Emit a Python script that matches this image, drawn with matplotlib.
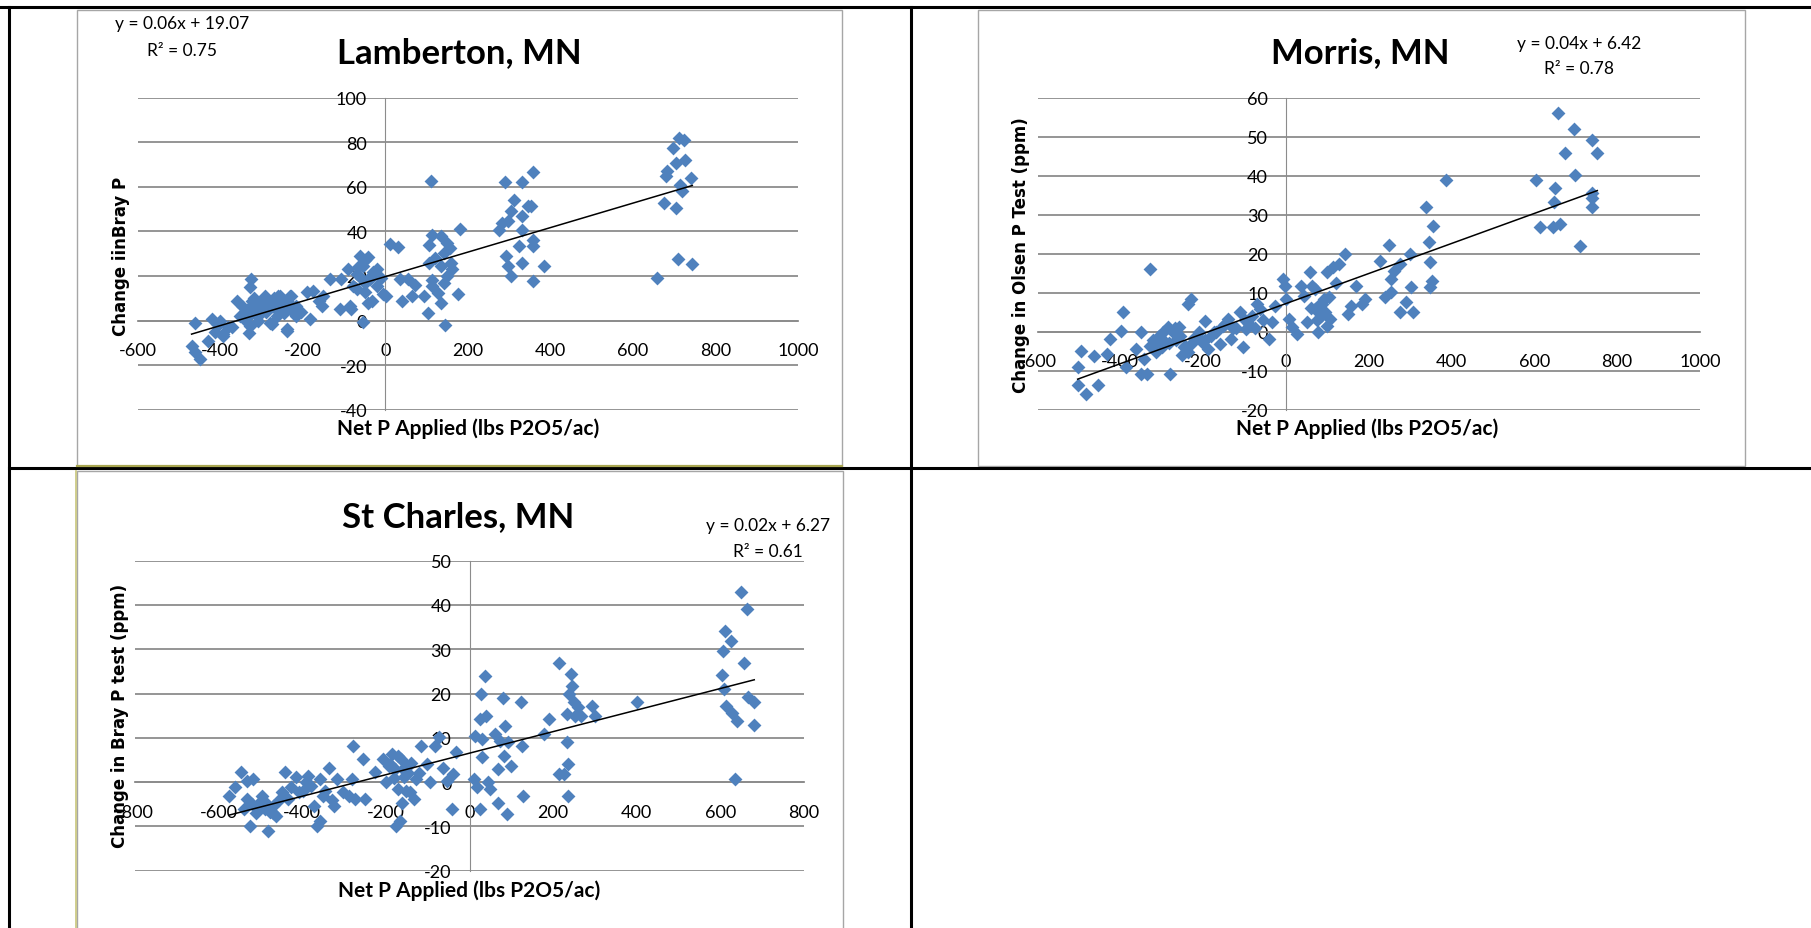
import matplotlib.pyplot as plt
from matplotlib.lines import Line2D
from matplotlib.patches import Rectangle
import numpy as np

plt.rcParams['font.family'] = ['Lato', 'DejaVu Sans']
plt.rcParams['axes.unicode_minus'] = False

W, H = 1811, 929

# Lamberton, MN  (net P applied vs change in Bray P)
lam_x = [-469, -461, -449, -461, -420, -400, -413, -393, -430, -360, -352, -340, -332, -324,
         -328, -328, -316, -308, -299, -291, -284, -275, -272, -263, -255, -248, -239, -236,
         -227, -224, -215, -182, -190, -175, -154, -151, -134, -106, -89, -86, -78, -61,
         -54, -49, -54, -42, -37, -33, -21, -21, 3, 11, 31, 36, 40, 55,
         -392, -371, -343, -322, -315, -329, -294, -280, -273, -259, -245, -238, -231, -216,
         -83, -69, -48, -41, -34, -48, -69, -160, -110, -10, -5,
         -345, -335, -318, -305, -296, -288, -270, -262, -250, -242, -232, -222, -205, -380,
         -405, -310, -285, -258, -66, -58, -30,
         64, 72, 93, 103, 110, 107, 114, 107, 114, 114, 128, 135, 142, 149, 156, 135, 142,
         135, 146, 160, 163, 177, 181, 120, 150,
         276, 283, 290, 297, 293, 297, 304, 304, 311, 325, 332, 332, 332, 332, 346, 353,
         359, 359, 359, 359, 385,
         658, 676, 680, 683, 697, 704, 704, 709, 712, 715, 719, 723, 726, 740, 744]
lam_y = [-11.3, -1.1, -17.3, -14.1, 0.7, 0, -5.2, -6, -9, 8.9, 2.2, 3.8, 5.2, 18.6,
         15, -2.3, 6.6, 0, 3.8, 11, 6.6, -1.6, 8.9, 2.2, 11, 5.2, -4.6, 8.3,
         11, 3.8, 6.6, 0.7, 12.6, 13.4, 6.6, 11, 18.6, 18.6, 23, 6.6, 15.6, 29,
         24.6, 12.6, -0.8, 28.5, 18.6, 8.9, 23, 15.6, 11, 34.3, 32.8, 18.6, 8.9, 18.6,
         -7, -3, 0.5, 9, 3.5, -5.5, 5, -1, 6.4, 11, 3.4, -4, 11, 2,
         5, 14, 27, 8, 20, 17, 21, 9, 5, 19, 12,
         6, 1, 10, 7, 9, 4, 10, 7, 8, 9, 7, 5, 4, -3,
         -2, 4, 8, 4, 24, 19, 22,
         11, 16, 11, 3.4, 62.5, 34, 38.6, 26, 18.4, 15.4, 12.4, 37.8, 30.4, 35, 32.6, 24.4, 17,
         8, -2.2, 26, 23, 11.7, 41, 28, 20,
         40.8, 43.8, 62, 44.6, 29, 24.4, 20, 49, 54, 33.4, 62, 46.8, 40.8, 26, 51.3, 51.3,
         66.5, 36.3, 33.4, 17.6, 24.4,
         19, 52.8, 64.8, 67, 77.5, 70.7, 50.6, 27.7, 82, 61, 58, 81, 72, 64, 25.6]

# Morris, MN  (change in Olsen P test)
mor_x = [-503, -496, -501, -482, -464, -454, -431, -426, -398, -394, -387, -363, -349, -349,
         -335, -328, -342, -328, -314, -307, -293, -286, -279, -272, -258, -244, -237, -230,
         -237, -216, -202, -195, -188, -174, -160, -153, -139, -132, -111, -104, -97, -83,
         -69, -62, -41, -34, -27, -6, -3, 1, 8, 15, 27, 36, 43, 50, 57, 64, 71, 71, 78,
         85, 92, 100, 100, 107, 114, 121, 128, 142, 149, 156, 170, 184, 191,
         226, 240, 250, 254, 254, 261, 275, 275, 289, 300, 303, 307,
         338, 345, 348, 349, 352, 355, 387,
         604, 614, 646, 648, 649, 656, 661, 674, 695, 698, 709, 738, 740, 740, 738, 752,
         -300, -265, -250, -222, -180, -120, -90, -55, 60, 88,
         -320, -310, -296, -282, -268, -255, -245, -228, -210, -196, -168, -146, -128, -100,
         -75, 75, 82, 95, 105]
mor_y = [-9, -4.9, -13.7, -16, -6.2, -13.7, -5.7, -1.9, 0.3, 5.1, -9.1, -4.4, -0.2, -10.9,
         -10.9, 16, -7, -3.6, -5.3, -1, -2.7, 1.1, -10.9, -0.2, 1.1, -3.6, 7.1, 8.4,
         -5.3, -1, -2.7, 2.8, -4.4, -0.2, -3.2, 1.5, 3.2, -1.9, 5, -4, 0.7, 4.1,
         7.1, 5.8, -1.9, 2.4, 6.7, 13.5, 11.8, 8.4, 3.2, 1.1, -0.6, 11.8, 9.2, 2.4, 15.2, 11.8, 10.9, 5.8, -0.2,
         4.1, 8.4, 1.5, 15.2, 3.2, 16.5, 12.6, 17.4, 19.9, 4.5, 6.7, 11.8, 7.1, 8.4,
         18.2, 8.8, 22.2, 10.1, 13.5, 15.6, 5, 17.4, 7.5, 19.9, 11.4, 5,
         31.9, 22.9, 11.4, 17.8, 13.1, 27, 38.9,
         38.9, 26.8, 26.8, 33.2, 36.8, 56, 27.6, 45.8, 52, 40.2, 22.1, 35.6, 49.2, 31.9, 34.2, 45.8,
         -4, -2, -6, -1.5, -1, 1, 2, 3, 6, 7,
         -2, -4, 0, -3, 1, -1, -4, -3, 0, -2, 0, 2, 1, 3,
         1, 3, 7, 5, 9]

# St Charles, MN  (change in Bray P test)
stc_x = [-574, -560, -546, -539, -532, -525, -518, -532, -504, -497, -490, -483, -476, -469,
         -462, -449, -442, -435, -414, -407, -386, -379, -372, -365, -358, -358, -351, -337,
         -324, -317, -303, -289, -282, -278, -275, -254, -250, -226, -208, -199, -192, -185,
         -178, -175, -167, -171, -164, -161, -157, -150, -143, -139, -133, -129, -115, -101,
         -94, -83, -74, -64, -53, -42, -39, -32,
         -520, -510, -485, -470, -455, -428, -398, -392, -345, -330, -190, -180, -170, -160,
         -152, -146, -120,
         10, 14, 17, 24, 28, 31, 31, 25, 38, 40, 44, 49, 61, 68, 68, 72, 79, 83, 86, 89,
         93, 100, 124, 125, 128,
         179, 190, 215, 214, 225, 232, 232, 236, 236, 239, 243, 246, 250, 253, 260, 267, 294, 301,
         401,
         603, 607, 611, 608, 614, 625, 628, 635, 639, 649, 656, 663, 667, 681, 681]
stc_y = [-3.2, -1.2, 2.2, -6.1, 0.3, -9.9, 0.7, -3.8, -4.6, -3.1, -6.1, -11, -6.8, -5.3,
         -7.6, -2.3, 2.2, -3.8, 1.1, -2.3, 1.4, -0.8, -5.3, -9.9, -8.7, 0.7, -3.1, 3.3,
         -5.3, 0.7, -2.3, -3.1, 0.7, 8.1, -3.8, 5.2, -3.8, 2.2, 5.2, 0, 3.7, 6.3,
         2.9, -9.9, -8.7, -1.6, 5.2, -4.6, 1.1, 3.7, -2.3, 4.4, -3.8, 0.7, 8.1, 4.1,
         0, 8.1, 10.1, 3.3, 0.3, -6.1, 1.8, 6.7,
         -5, -7, -5, -7, -4, -1, -2, 0, -2, -4, 4, 1, 6, 3,
         -2, 2, 2,
         0.7, 10.5, -1.2, 14.2, 19.9, 9.7, 5.6, -6.1, 24, 14.9, 0, -1.6, 10.8, -4.6, 2.9, 9.3, 19.1, 5.9, 12.7, -7.2,
         9, 3.7, 18, 8.1, -3.1,
         10.8, 14.2, 26.9, 1.8, 1.8, 9, 15.4, -3.2, 4.1, 19.9, 24.4, 21.7, 18, 15, 16.9, 15, 17.1, 15,
         18,
         24.2, 29.6, 34.2, 21, 17.2, 31.9, 15.7, 0.7, 13.8, 43, 27, 39, 19.3, 18, 12.9]

titles = ['Lamberton, MN', 'Morris, MN', 'St Charles, MN']
ylabels = ['Change iinBray P', 'Change in Olsen P Test (ppm)', 'Change in Bray P test (ppm)']
equations = ['y = 0.06x + 19.07', 'y = 0.04x + 6.42', 'y = 0.02x + 6.27']
r2_labels = ['R² = 0.75', 'R² = 0.78', 'R² = 0.61']
xlabel = 'Net P Applied (lbs P2O5/ac)'


def fx(px):
    return px / W


def fy(py):
    return 1 - py / H


def box(x0, y0, x1, y1):
    return [x0 / W, 1 - y1 / H, (x1 - x0) / W, (y1 - y0) / H]


fig = plt.figure(figsize=(W / 100, H / 100), dpi=100)

# table lines
lines = [((0, 1811), (8, 8)), ((9, 9), (8, 929)), ((911, 911), (8, 929)), ((9, 1811), (469, 469))]
for (xa, xb), (ya, yb) in lines:
    fig.add_artist(Line2D([fx(xa), fx(xb)], [fy(ya), fy(yb)], color='black', lw=2.2))

# chart frames
for x0, y0, x1, y1 in [(77, 11, 842, 467), (978, 11, 1745, 467), (77, 472, 843, 935)]:
    fig.add_artist(Rectangle((fx(x0), fy(y1)), fx(x1) - fx(x0), fy(y0) - fy(y1),
                             fill=False, edgecolor='#A6A6A6', lw=1.0))
fig.add_artist(Line2D([fx(77), fx(842)], [fy(467), fy(467)], color='#A8A650', lw=1.6))
fig.add_artist(Line2D([fx(76), fx(76)], [fy(472), fy(929)], color='#C8C67A', lw=1.2))


def chart(rect, xs, ys, xlim, ylim, xticks, yticks):
    ax = fig.add_axes(box(*rect))
    ax.patch.set_alpha(0)
    ax.scatter(xs, ys, marker='D', s=50, color='#4F81BD', linewidths=0, zorder=3)
    k, b = np.polyfit(xs, ys, 1)
    xx = np.array([min(xs), max(xs)])
    ax.plot(xx, k * xx + b, color='black', lw=1.1, zorder=4)
    ax.set_xlim(xlim)
    ax.set_ylim(ylim)
    ax.set_xticks(xticks)
    ax.set_yticks(yticks)
    ax.spines['top'].set_visible(False)
    ax.spines['right'].set_visible(False)
    ax.spines['left'].set_position(('data', 0))
    ax.spines['bottom'].set_position(('data', 0))
    ax.spines['left'].set_color('#8C8C8C')
    ax.spines['left'].set_linewidth(0.8)
    ax.spines['bottom'].set_color('#8C8C8C')
    ax.spines['bottom'].set_linewidth(1.3)
    ax.grid(axis='y', color='#8C8C8C', lw=1.3)
    ax.set_axisbelow(True)
    ax.tick_params(axis='x', length=0, labelsize=13, pad=15.5)
    ax.tick_params(axis='y', length=0, labelsize=13, pad=13)
    return ax


chart((137.5, 98.7, 798, 410.7), lam_x, lam_y, (-600, 1000), (-40, 100),
      range(-600, 1001, 200), range(-40, 101, 20))
chart((1037.5, 98.7, 1700, 410.7), mor_x, mor_y, (-600, 1000), (-20, 60),
      range(-600, 1001, 200), range(-20, 61, 10))
chart((135, 561.7, 804, 871.7), stc_x, stc_y, (-800, 800), (-20, 50),
      range(-800, 801, 200), range(-20, 51, 10))

# titles, labels, trend equations
title_pos = [(459, 53), (1360, 53), (458, 517)]
ylabel_pos = [(121, 256), (1021, 255), (120, 716)]
xlabel_pos = [(468, 429), (1367, 429), (469, 891)]
eq_pos = [(182, 24), (1579, 44), (768, 526)]
r2_pos = [(182, 51), (1579, 69), (768, 552)]

for i in range(3):
    fig.text(fx(title_pos[i][0]), fy(title_pos[i][1]), titles[i], fontsize=25,
             fontweight='bold', ha='center', va='center')
    fig.text(fx(ylabel_pos[i][0]), fy(ylabel_pos[i][1]), ylabels[i], fontsize=12,
             fontweight='bold', family='DejaVu Sans', rotation=90, ha='center', va='center')
    fig.text(fx(xlabel_pos[i][0]), fy(xlabel_pos[i][1]), xlabel, fontsize=15,
             fontweight='bold', ha='center', va='center')
    fig.text(fx(eq_pos[i][0]), fy(eq_pos[i][1]), equations[i], fontsize=12.5,
             ha='center', va='center')
    fig.text(fx(r2_pos[i][0]), fy(r2_pos[i][1]), r2_labels[i], fontsize=12.5,
             ha='center', va='center')

fig.savefig('out.png', dpi=100)
